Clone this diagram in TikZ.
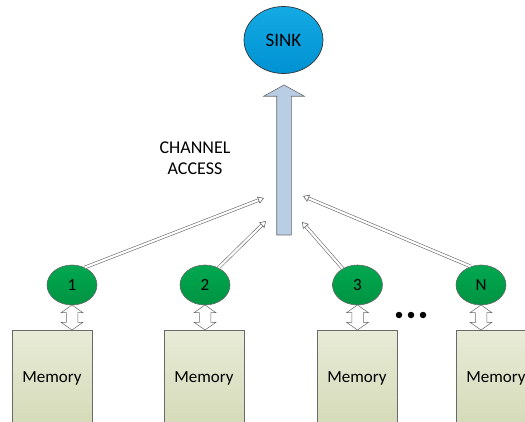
\documentclass[tikz,border=0pt]{standalone}
\usepackage{fontspec}
\setmainfont{Carlito}
\usetikzlibrary{shapes.geometric,shapes.arrows,arrows.meta,calc}
\definecolor{grn}{RGB}{0,168,80}
\definecolor{grnd}{RGB}{0,148,66}
\definecolor{blu}{RGB}{20,170,228}
\definecolor{blud}{RGB}{0,145,210}
\definecolor{memt}{RGB}{232,235,215}
\definecolor{memb}{RGB}{212,219,184}
\definecolor{bord}{RGB}{105,105,105}
\definecolor{bigfill}{RGB}{185,205,229}
\begin{document}
\begin{tikzpicture}[x=1pt,y=-1pt,
  sensor/.style={ellipse,draw=bord,line width=0.6pt,top color=grn,bottom color=grnd,
     minimum width=50pt,minimum height=40pt,inner sep=0pt,font=\fontsize{17}{20}\selectfont},
  sinknode/.style={ellipse,draw=black!80,line width=0.7pt,top color=blu,bottom color=blud,
     minimum width=79pt,minimum height=67pt,inner sep=0pt,font=\fontsize{19}{22}\selectfont},
  membox/.style={rectangle,draw=bord,line width=0.6pt,top color=memt,bottom color=memb,
     minimum width=80pt,minimum height=96pt,inner sep=0pt,font=\fontsize{17}{20}\selectfont},
  dblarr/.style={double arrow,draw=bord,fill=white,line width=0.5pt,rotate=90,
     minimum height=25pt,minimum width=21pt,inner sep=5.5pt,double arrow head extend=5pt,
     double arrow tip angle=110},
  bigarr/.style={single arrow,draw=bord,fill=bigfill,line width=0.6pt,rotate=90,
     minimum height=150pt,minimum width=40pt,inner sep=7pt,single arrow head extend=13pt,
     single arrow tip angle=122},
  thin/.style={draw=bord,double=white,double distance=2.2pt,line width=0.6pt,
     -{Triangle[open,length=6pt,width=7.5pt]}},
  dot/.style={circle,fill=black,inner sep=0pt,minimum size=6.5pt}]
\useasboundingbox (0,0) rectangle (525,422);
% sink and big arrow
\node[sinknode] (sink) at (283.5,40) {SINK};
\node[bigarr] (big) at (284,162) {};
\node[align=center,font=\fontsize{18}{21}\selectfont] (ca) at (195,158) {CHANNEL\\ACCESS};
% sensors
\node[sensor] (n1) at (72,285) {1};
\node[sensor] (n2) at (205,285) {2};
\node[sensor] (n3) at (357.5,285) {3};
\node[sensor] (n4) at (481,285) {N};
% memory
\node[membox] (m1) at (52,378) {Memory};
\node[membox] (m2) at (204,378) {Memory};
\node[membox] (m3) at (357,378) {Memory};
\node[membox] (m4) at (496,378) {Memory};
% double arrows
\foreach \i in {1,2,3,4}{
  \node[dblarr] (d\i) at ($(n\i.south)!0.5!(n\i.south |- m\i.north)$) {};
}
% dots
\node[dot] (e1) at (399,315) {};
\node[dot] (e2) at (411,315) {};
\node[dot] (e3) at (423,315) {};
% channel access arrows
\coordinate (t1) at (264,198);
\coordinate (t2) at (266,221);
\coordinate (t3) at (302,222);
\coordinate (t4) at (303,196);
\draw[thin] (n1.54) -- (t1);
\draw[thin] (n2.52) -- (t2);
\draw[thin] (n3.132) -- (t3);
\draw[thin] (n4.119) -- (t4);
\end{tikzpicture}
\end{document}
